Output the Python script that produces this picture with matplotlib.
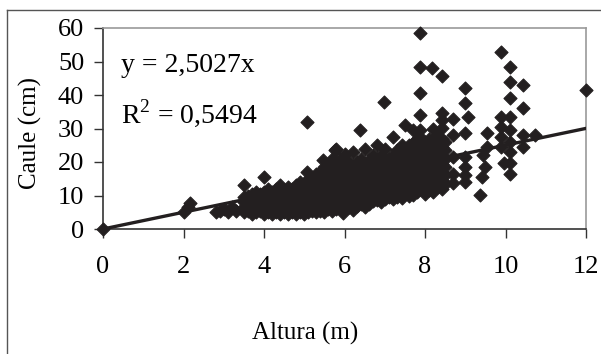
import matplotlib.pyplot as plt
from matplotlib.lines import Line2D

plt.rcParams['font.family'] = ['Liberation Serif', 'DejaVu Serif']
plt.rcParams['mathtext.fontset'] = 'custom'
plt.rcParams['mathtext.rm'] = 'Liberation Serif'

# Altura (m) and Caule (cm)
altura = [
    0.0,
    2.0, 2.1, 2.16,
    2.8, 2.9, 3.0, 3.1, 3.2, 3.3,
    3.5, 3.5, 3.5, 3.5, 3.5,
    3.6, 3.6, 3.6, 3.6,
    3.7, 3.7, 3.7, 3.7, 3.7,
    3.8, 3.8, 3.8, 3.8,
    3.9, 3.9, 3.9, 3.9,
    4.0, 4.0, 4.0, 4.0, 4.0, 4.0,
    4.1, 4.1, 4.1, 4.1, 4.1,
    4.2, 4.2, 4.2, 4.2, 4.2,
    4.3, 4.3, 4.3, 4.3, 4.3,
    4.4, 4.4, 4.4, 4.4, 4.4,
    4.5, 4.5, 4.5, 4.5, 4.5,
    4.6, 4.6, 4.6, 4.6, 4.6, 4.6,
    4.7, 4.7, 4.7, 4.7, 4.7,
    4.8, 4.8, 4.8, 4.8, 4.8, 4.8,
    4.9, 4.9, 4.9, 4.9, 4.9, 4.9,
    5.0, 5.0, 5.0, 5.0, 5.0, 5.0,
    5.07, 5.07,
    5.1, 5.1, 5.1, 5.1, 5.1, 5.1,
    5.2, 5.2, 5.2, 5.2, 5.2,
    5.3, 5.3, 5.3, 5.3, 5.3, 5.3, 5.3,
    5.4, 5.4, 5.4, 5.4, 5.4, 5.4,
    5.47,
    5.5, 5.5, 5.5, 5.5, 5.5, 5.5, 5.5,
    5.6, 5.6, 5.6, 5.6, 5.6, 5.6, 5.6,
    5.7, 5.7, 5.7, 5.7, 5.7, 5.7, 5.7, 5.7,
    5.76,
    5.8, 5.8, 5.8, 5.8, 5.8, 5.8, 5.8, 5.8,
    5.9, 5.9, 5.9, 5.9, 5.9, 5.9, 5.9,
    5.96,
    6.0, 6.0, 6.0, 6.0, 6.0, 6.0, 6.0, 6.0,
    6.1, 6.1, 6.1, 6.1, 6.1, 6.1, 6.1,
    6.2, 6.2, 6.2, 6.2, 6.2, 6.2, 6.2, 6.2,
    6.3, 6.3, 6.3, 6.3, 6.3, 6.3, 6.3,
    6.39,
    6.4, 6.4, 6.4, 6.4, 6.4, 6.4, 6.4,
    6.5, 6.5, 6.5, 6.5, 6.5, 6.5, 6.5, 6.5,
    6.6, 6.6, 6.6, 6.6, 6.6, 6.6, 6.6,
    6.7, 6.7, 6.7, 6.7, 6.7, 6.7, 6.7,
    6.8, 6.8, 6.8, 6.8, 6.8, 6.8, 6.8,
    6.9, 6.9, 6.9, 6.9, 6.9, 6.9, 6.9,
    6.98,
    7.0, 7.0, 7.0, 7.0, 7.0, 7.0, 7.0,
    7.1, 7.1, 7.1, 7.1, 7.1, 7.1,
    7.2, 7.2, 7.2, 7.2, 7.2, 7.2, 7.2, 7.2,
    7.3, 7.3, 7.3, 7.3, 7.3, 7.3, 7.3,
    7.43, 7.43, 7.43, 7.43, 7.43, 7.43, 7.43,
    7.5, 7.5, 7.5, 7.5, 7.5, 7.5, 7.5,
    7.6, 7.6, 7.6, 7.6, 7.6, 7.6, 7.6,
    7.7, 7.7, 7.7, 7.7, 7.7, 7.7, 7.7, 7.7,
    7.8, 7.8, 7.8, 7.8, 7.8, 7.8, 7.8,
    7.88, 7.88, 7.88, 7.88, 7.88, 7.88, 7.88, 7.88, 7.88, 7.88, 7.88, 7.88,
    8.0, 8.0, 8.0, 8.0, 8.0, 8.0, 8.0,
    8.1, 8.1, 8.1, 8.1, 8.1, 8.1, 8.1,
    8.17,
    8.2, 8.2, 8.2, 8.2, 8.2, 8.2, 8.2, 8.2,
    8.3, 8.3, 8.3, 8.3, 8.3, 8.3, 8.3,
    8.42, 8.42, 8.42, 8.42, 8.42, 8.42, 8.42, 8.42, 8.42, 8.42, 8.42,
    8.5, 8.5, 8.5, 8.5, 8.5, 8.5,
    8.7, 8.7, 8.7, 8.7, 8.7,
    9.0, 9.0, 9.0, 9.0, 9.0, 9.0, 9.0,
    9.07,
    9.37, 9.42, 9.44, 9.49, 9.53, 9.53,
    9.9, 9.9, 9.9, 9.9, 9.9,
    9.97,
    10.1, 10.1, 10.1, 10.1, 10.1, 10.1, 10.1, 10.1, 10.1,
    10.43, 10.43, 10.43, 10.43,
    10.73,
    12.0,
]

caule = [
    0.0,
    5.0, 6.5, 7.8,
    5.0, 5.5, 6.0, 5.0, 6.5, 5.5,
    5.0, 6.5, 8.0, 9.5, 13.1,
    5.5, 7.0, 8.5, 10.0,
    4.5, 6.0, 7.5, 9.0, 10.5,
    5.0, 6.5, 8.0, 11.0,
    5.5, 7.0, 9.0, 10.5,
    4.5, 6.0, 7.5, 9.0, 11.0, 15.6,
    5.0, 6.5, 8.0, 10.0, 12.0,
    4.5, 6.0, 7.5, 9.5, 11.0,
    5.0, 7.0, 8.5, 10.0, 12.0,
    4.5, 6.0, 8.0, 9.5, 13.0,
    5.0, 6.5, 8.0, 10.0, 11.5,
    4.5, 6.0, 7.5, 9.0, 11.0, 12.5,
    5.0, 7.0, 8.5, 10.5, 12.0,
    4.5, 6.0, 8.0, 9.5, 11.5, 13.0,
    5.0, 7.0, 9.0, 10.5, 12.5, 14.0,
    4.5, 6.0, 8.0, 10.0, 12.0, 13.5,
    17.0, 32.0,
    5.0, 7.0, 9.0, 11.0, 13.0, 15.0,
    5.5, 7.5, 9.5, 11.5, 14.0,
    5.0, 6.5, 8.5, 10.5, 12.5, 15.0, 16.5,
    5.5, 7.5, 9.5, 11.5, 13.5, 17.0,
    20.6,
    5.0, 7.0, 9.0, 11.0, 13.0, 15.0, 18.5,
    6.0, 8.0, 10.0, 12.0, 14.0, 16.0, 19.0,
    5.5, 7.5, 9.5, 11.5, 13.5, 15.5, 18.0, 21.0,
    23.6,
    6.0, 8.0, 10.0, 12.0, 14.0, 16.5, 20.0, 24.0,
    6.5, 8.5, 10.5, 12.5, 15.0, 17.5, 21.0,
    4.8,
    6.0, 8.0, 10.0, 12.0, 14.0, 16.0, 19.0, 22.5,
    6.5, 8.5, 11.0, 13.0, 15.0, 17.0, 20.0,
    5.7, 7.5, 9.5, 11.5, 13.5, 16.0, 18.0, 23.0,
    7.0, 9.0, 11.0, 13.0, 15.0, 17.5, 20.0,
    29.6,
    7.5, 9.5, 11.5, 13.5, 16.0, 18.5, 21.0,
    6.6, 8.5, 10.5, 12.5, 14.5, 17.0, 19.5, 24.0,
    7.5, 9.5, 11.5, 14.0, 16.0, 18.0, 20.5,
    8.5, 10.5, 12.5, 15.0, 17.0, 19.5, 22.0,
    8.7, 10.5, 13.0, 15.0, 17.5, 20.0, 25.0,
    8.1, 10.0, 12.0, 14.0, 16.5, 19.0, 22.0,
    37.9,
    9.0, 11.0, 13.0, 15.5, 18.0, 21.0, 24.0,
    9.5, 11.5, 13.5, 16.0, 18.5, 21.0,
    9.0, 11.0, 13.0, 15.0, 17.0, 19.5, 22.0, 27.5,
    9.5, 11.5, 14.0, 16.0, 18.5, 21.0, 23.5,
    9.3, 12.0, 14.5, 17.0, 19.5, 22.0, 25.0,
    10.5, 13.0, 15.5, 18.0, 20.5, 23.0, 31.0,
    10.0, 12.5, 15.0, 17.5, 20.0, 22.5, 25.0,
    10.1, 12.5, 15.0, 17.5, 20.0, 22.5, 25.7, 29.6,
    11.0, 13.5, 16.0, 18.5, 21.0, 24.0, 27.0,
    12.0, 14.5, 17.0, 19.5, 22.0, 24.5, 27.5, 29.5, 34.0, 40.6, 48.4, 58.5,
    10.5, 13.0, 15.5, 18.0, 20.5, 23.0, 26.0,
    11.5, 14.0, 16.5, 19.0, 21.5, 24.0, 27.0,
    48.1,
    11.0, 13.5, 16.0, 18.5, 21.0, 23.5, 26.0, 30.0,
    12.5, 15.0, 17.5, 20.0, 22.5, 25.0, 28.0,
    12.0, 14.5, 17.0, 19.5, 22.0, 24.5, 27.0, 30.1, 32.5, 34.6, 45.7,
    13.5, 16.0, 18.5, 21.0, 23.5, 26.0,
    13.7, 16.4, 21.5, 28.1, 32.8,
    13.9, 16.0, 18.5, 21.5, 28.6, 37.6, 42.0,
    33.4,
    10.1, 15.5, 22.1, 18.5, 24.5, 28.6,
    24.4, 27.4, 30.4, 33.4, 52.8,
    19.7,
    16.3, 19.7, 23.1, 26.1, 29.6, 33.4, 39.1, 43.9, 48.4,
    24.5, 28.1, 36.1, 43.0,
    28.1,
    41.5,
]

slope = 2.5027
x_ticks = [0, 2, 4, 6, 8, 10, 12]
y_ticks = [0, 10, 20, 30, 40, 50, 60]

fig = plt.figure(figsize=(6.01, 3.54), dpi=100)
ax = fig.add_axes([103 / 601, 1 - 229 / 354, 483 / 601, 201 / 354])

ax.scatter(altura, caule, marker='D', s=44, color='#231f20',
           linewidths=0.8, zorder=3, clip_on=False)
ax.plot([0, 12], [0, slope * 12], color='#231f20', lw=2.4, zorder=4)

ax.set_xlim(0, 12)
ax.set_ylim(0, 60)
ax.set_xticks(x_ticks)
ax.set_yticks(y_ticks)
ax.tick_params(axis='both', direction='out', length=6.5, width=1,
               color='#333333', labelsize=19)
ax.tick_params(axis='x', pad=13)
ax.tick_params(axis='y', pad=7)

for side in ['left', 'bottom']:
    ax.spines[side].set_color('#333333')
    ax.spines[side].set_linewidth(1.2)
for side in ['top', 'right']:
    ax.spines[side].set_color('#9a9a9a')
    ax.spines[side].set_linewidth(1.2)

ax.text(0.45, 48.7, 'y = 2,5027x', fontsize=20, va='center', ha='left')
ax.text(0.45, 34.5, 'R$^{2}$ = 0,5494', fontsize=20, va='center', ha='left')

fig.text(305 / 601, 1 - 333 / 354, 'Altura (m)', fontsize=18,
         ha='center', va='center')
fig.text(30 / 601, 1 - 133 / 354, 'Caule (cm)', fontsize=18,
         ha='center', va='center', rotation=90)

# partial frame around the figure (top and left edges)
fig.add_artist(Line2D([7 / 601, 1], [1 - 10 / 354, 1 - 10 / 354],
                      transform=fig.transFigure, color='#555555', lw=1))
fig.add_artist(Line2D([7 / 601, 7 / 601], [0, 1 - 10 / 354],
                      transform=fig.transFigure, color='#555555', lw=1))

fig.savefig('out.png', dpi=100)
